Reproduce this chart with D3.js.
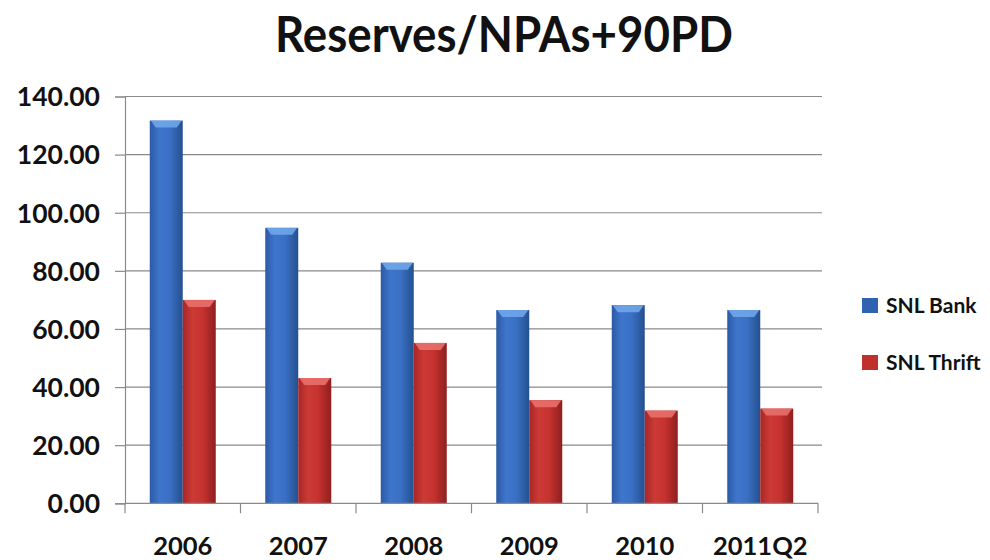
<!DOCTYPE html>
<html><head><meta charset="utf-8">
<script src="https://cdn.jsdelivr.net/npm/d3@7"></script>
<style>body{margin:0;background:#fff}svg{display:block}</style>
</head><body>
<svg id="c" width="990" height="560"></svg>
<script>
const categories = ["2006","2007","2008","2009","2010","2011Q2"];
const seriesNames = ["SNL Bank","SNL Thrift"];
const bankValues = [131.7, 94.8, 82.8, 66.5, 68.2, 66.5];
const thriftValues = [70.0, 43.1, 55.2, 35.5, 31.9, 32.6];
const yTicks = [0,20,40,60,80,100,120,140];
const title = "Reserves/NPAs+90PD";

const svg = d3.select("#c");
const font = "Lato, 'Open Sans', sans-serif";
const L = 125, R = 818, T = 96.5, B = 503.3;

const defs = svg.append("defs");
function grad(id, stops){
  const g = defs.append("linearGradient").attr("id", id).attr("x1","0").attr("x2","1").attr("y1","0").attr("y2","0");
  stops.forEach(s => g.append("stop").attr("offset", s[0]).attr("stop-color", s[1]));
}
grad("gBank", [[0,"#2b5aa6"],[0.3,"#3e76cc"],[0.6,"#3a70c4"],[1,"#24508f"]]);
grad("gThrift", [[0,"#a82626"],[0.3,"#cc3a36"],[0.6,"#c6322f"],[1,"#8f1f1f"]]);
const colors = {"SNL Bank":"url(#gBank)","SNL Thrift":"url(#gThrift)"};
const tops = {"SNL Bank":"#6fa6ea","SNL Thrift":"#e8706a"};
const legendCols = {"SNL Bank":"#2f62b0","SNL Thrift":"#c0302d"};

const y = d3.scaleLinear().domain([0,140]).range([B,T]);
const x0 = d3.scaleBand().domain(categories).range([L,R]).padding(0);
const x1 = d3.scaleBand().domain(seriesNames).range([0,x0.bandwidth()]).paddingInner(0).paddingOuter(0.75);

// gridlines
svg.append("g").selectAll("line").data(yTicks.filter(d=>d>0)).join("line")
  .attr("x1",L).attr("x2",R+4).attr("y1",d=>y(d)).attr("y2",d=>y(d))
  .attr("stroke","#8a8a8a").attr("stroke-width",1.2);

// y axis
const ya = svg.append("g").attr("transform",`translate(${L},0)`)
  .call(d3.axisLeft(y).tickValues(yTicks).tickSize(10).tickFormat(d3.format(".2f")));
ya.select(".domain").attr("stroke","#8a8a8a").attr("stroke-width",1.2);
ya.selectAll(".tick line").attr("stroke","#8a8a8a").attr("stroke-width",1.2);
ya.selectAll("text").attr("x",-25).attr("font-family",font).attr("font-weight","bold").attr("font-size","26.5px").attr("fill","#111").attr("dy","0.35em");

// bars
const data = categories.map((c,i)=>({cat:c, vals:[{s:"SNL Bank",v:bankValues[i]},{s:"SNL Thrift",v:thriftValues[i]}]}));
const groups = svg.append("g").selectAll("g").data(data).join("g")
  .attr("transform",d=>`translate(${x0(d.cat)},0)`);
groups.selectAll("rect").data(d=>d.vals).join("rect")
  .attr("x",d=>x1(d.s)).attr("width",x1.bandwidth())
  .attr("y",d=>y(d.v)).attr("height",d=>B-y(d.v))
  .attr("fill",d=>colors[d.s]);
groups.selectAll("path.top").data(d=>d.vals).join("path").attr("class","top")
  .attr("d",d=>{const xa=x1(d.s), w=x1.bandwidth(), ya=y(d.v), h=7, b=6;
    return `M${xa+1},${ya}L${xa+w-1},${ya}L${xa+w-b},${ya+h}L${xa+b},${ya+h}Z`;})
  .attr("fill",d=>tops[d.s]).attr("opacity",0.9);

// x axis
const xa = svg.append("g").attr("transform",`translate(0,${B})`)
  .call(d3.axisBottom(x0).tickSize(0).tickPadding(0));
xa.select(".domain").attr("stroke","#8a8a8a").attr("stroke-width",1.2).attr("d",`M${L},0H${R}`);
xa.selectAll("text").attr("y",52).attr("dy","0").attr("font-family",font).attr("font-weight","bold").attr("font-size","25.5px").attr("fill","#111");
svg.append("g").selectAll("line").data(categories.concat(["end"])).join("line")
  .attr("x1",(d,i)=>i<categories.length?x0(d):R).attr("x2",(d,i)=>i<categories.length?x0(d):R)
  .attr("y1",B).attr("y2",B+10).attr("stroke","#8a8a8a").attr("stroke-width",1.2);

// title
svg.append("text").attr("x",504).attr("y",52).attr("text-anchor","middle")
  .attr("font-family",font).attr("font-weight","bold").attr("font-size","50px").attr("fill","#111")
  .attr("textLength",458).attr("lengthAdjust","spacingAndGlyphs").text(title);

// legend
const lg = svg.append("g").selectAll("g").data(seriesNames).join("g")
  .attr("transform",(d,i)=>`translate(862,${298+i*57})`);
lg.append("rect").attr("width",16).attr("height",15).attr("fill",d=>legendCols[d]);
lg.append("text").attr("x",24).attr("y",8).attr("dy","0.35em").attr("font-family",font).attr("font-weight","bold").attr("font-size","21px").attr("fill","#111").text(d=>d);
</script>
</body></html>
